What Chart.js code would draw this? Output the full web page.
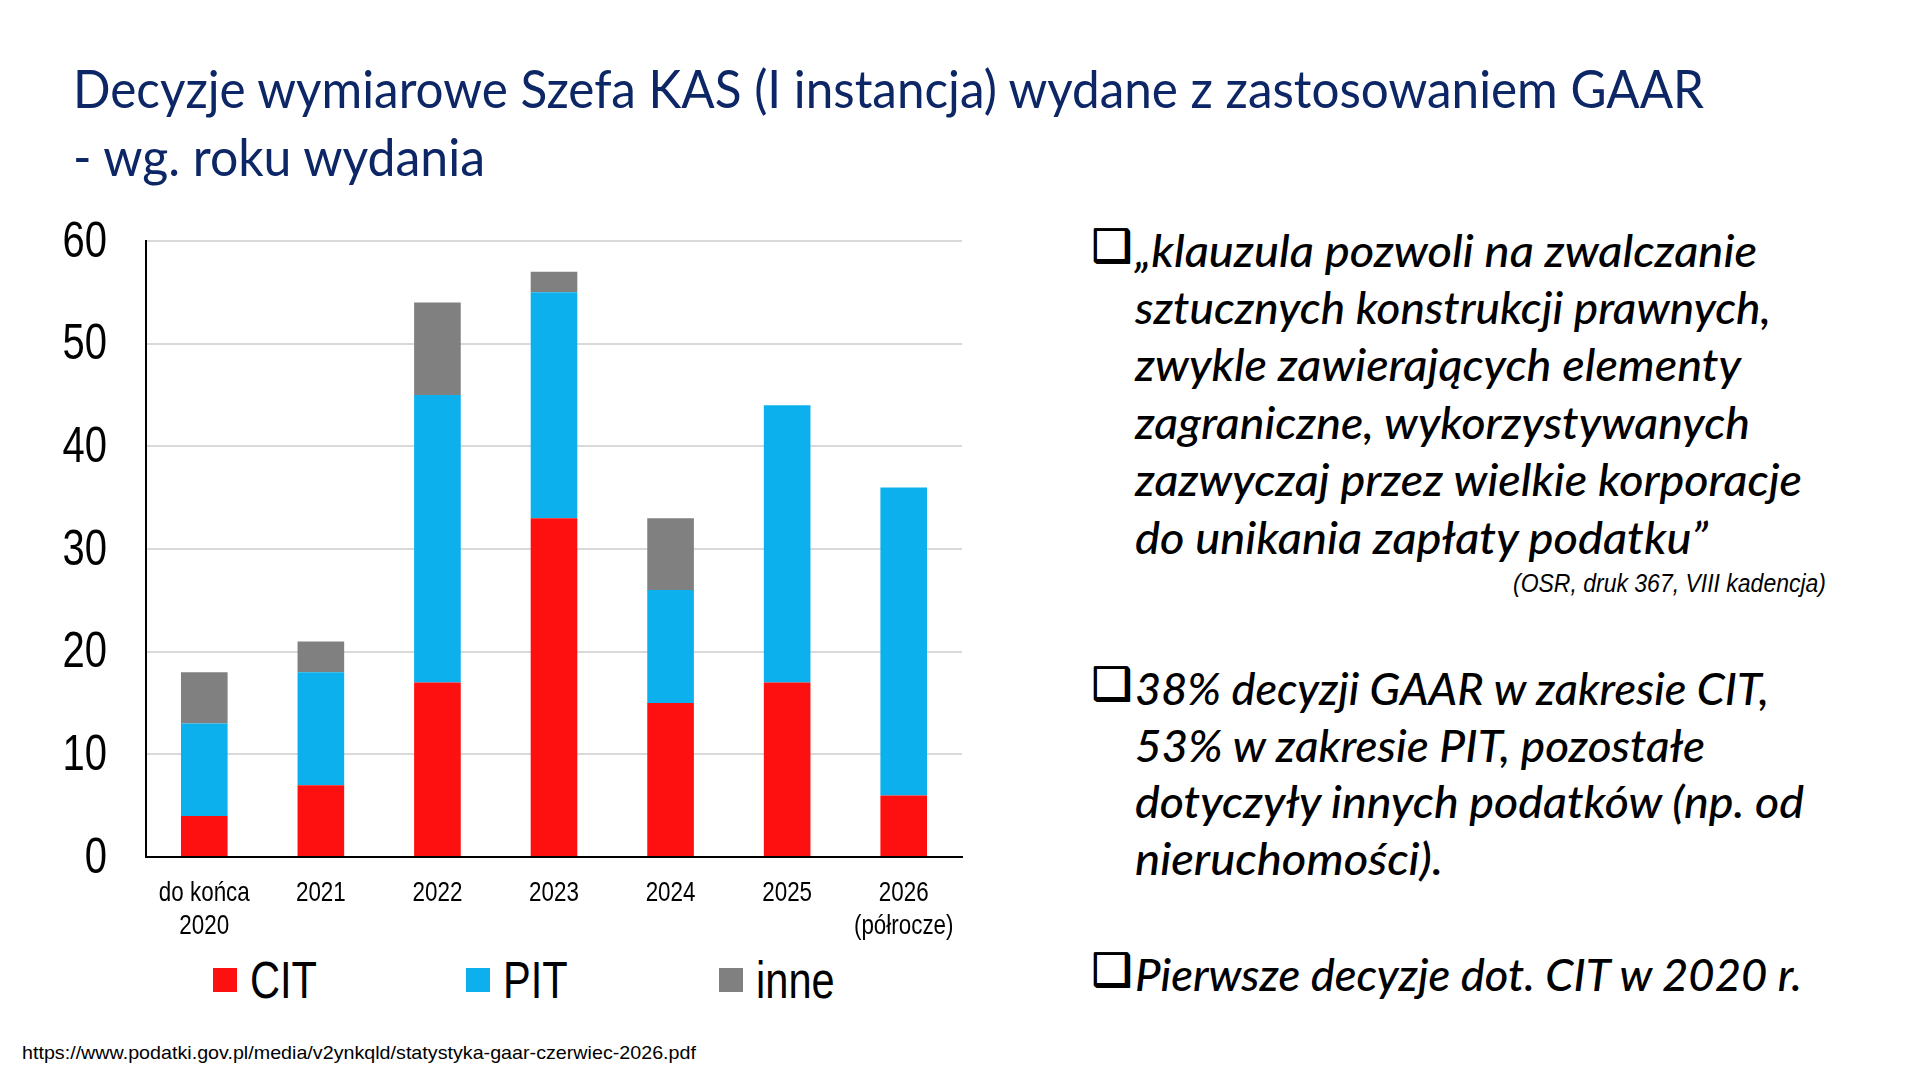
<!DOCTYPE html>
<html lang="pl">
<head>
<meta charset="utf-8">
<title>Decyzje GAAR</title>
<script src="https://cdn.jsdelivr.net/npm/chart.js@4.4.1/dist/chart.umd.min.js"></script>
<style>
  html, body { margin: 0; padding: 0; background: #fff; }
  body { width: 1909px; height: 1069px; position: relative; overflow: hidden; }
  .ln { position: absolute; white-space: nowrap; transform-origin: left center; }
  .title { font-family: Lato, "Open Sans", sans-serif; font-size: 52px; color: #0d2766; line-height: 68px; }
  .txt { font-family: Lato, "Open Sans", sans-serif; font-style: italic; font-weight: 500; font-size: 44px; color: #000; line-height: 58px; }
  .box { position: absolute; font-family: "DejaVu Sans", sans-serif; font-size: 45px; line-height: 58px; color: #000;
         text-shadow: 1px 0 0 #000, 0 1px 0 #000, 1px 1px 0 #000; }
  .cite { font-family: "Liberation Sans", sans-serif; font-style: italic; font-size: 25px; line-height: 30px; }
  .src { font-family: "Liberation Sans", Arial, sans-serif; font-size: 19px; line-height: 24px; color: #000; }
  #chartWrap { position: absolute; left: 0; top: 172px; width: 1000px; height: 778px; }
  #legend { position: absolute; left: 213px; top: 950px; height: 60px; display: flex; }
  #legend .item { width: 253px; display: flex; align-items: center; height: 60px; }
  #legend .sw { width: 24px; height: 24px; margin-right: 13px; }
  #legend .lab { display: inline-block; font-family: "Liberation Sans", sans-serif; font-size: 52px; color: #000;
                 transform: scaleX(0.8); transform-origin: left center; }
</style>
</head>
<body>

<div class="ln title" style="left:73px; top:54px;" data-w="1631">Decyzje wymiarowe Szefa KAS (I instancja) wydane z zastosowaniem GAAR</div>
<div class="ln title" style="left:73px; top:122px;" data-w="412">- wg. roku wydania</div>

<div id="chartWrap"><canvas id="gaarChart"></canvas></div>
<div id="legend"></div>

<!-- blok 1 -->
<div class="box" style="left:1091px; top:217px;">❑</div>
<div class="ln txt" style="left:1135px; top:221px;" data-w="622">„klauzula pozwoli na zwalczanie</div>
<div class="ln txt" style="left:1135px; top:278px;" data-w="636">sztucznych konstrukcji prawnych,</div>
<div class="ln txt" style="left:1135px; top:335px;" data-w="606">zwykle zawierających elementy</div>
<div class="ln txt" style="left:1135px; top:393px;" data-w="615">zagraniczne, wykorzystywanych</div>
<div class="ln txt" style="left:1135px; top:450px;" data-w="667">zazwyczaj przez wielkie korporacje</div>
<div class="ln txt" style="left:1135px; top:508px;" data-w="573">do unikania zapłaty podatku”</div>
<div class="ln cite" style="left:1513px; top:568px;" data-w="313">(OSR, druk 367, VIII kadencja)</div>

<!-- blok 2 -->
<div class="box" style="left:1091px; top:655px;">❑</div>
<div class="ln txt" style="left:1135px; top:659px;" data-w="634">38% decyzji GAAR w zakresie CIT,</div>
<div class="ln txt" style="left:1135px; top:716px;" data-w="570">53% w zakresie PIT, pozostałe</div>
<div class="ln txt" style="left:1135px; top:772px;" data-w="669">dotyczyły innych podatków (np. od</div>
<div class="ln txt" style="left:1135px; top:829px;" data-w="308">nieruchomości).</div>

<!-- blok 3 -->
<div class="box" style="left:1091px; top:941px;">❑</div>
<div class="ln txt" style="left:1135px; top:945px;" data-w="667">Pierwsze decyzje dot. CIT w 2020 r.</div>

<div class="ln src" style="left:22px; top:1041px;" data-w="674">https://www.podatki.gov.pl/media/v2ynkqld/statystyka-gaar-czerwiec-2026.pdf</div>

<script>
// dane
const categories = [['do końca', '2020'], '2021', '2022', '2023', '2024', '2025', ['2026', '(półrocze)']];
const citValues = [4, 7, 17, 33, 15, 17, 6];
const pitValues = [9, 11, 28, 22, 11, 27, 30];
const inneValues = [5, 3, 9, 2, 7, 0, 0];
const seriesLabels = ['CIT', 'PIT', 'inne'];
const yMin = 0;
const yMax = 60;
const yStep = 10;

const colors = ['#ff1010', '#0bb0ec', '#808080'];
const fontFam = '"Liberation Sans", Arial, sans-serif';

// dopasowanie szerokości linii tekstu do oryginału
document.querySelectorAll('[data-w]').forEach(el => {
    const w = el.getBoundingClientRect().width;
    const target = parseFloat(el.dataset.w);
    el.style.transform = 'scaleX(' + (target / w).toFixed(4) + ')';
});

// etykiety osi rysowane zwężoną czcionką (jak Arial Narrow)
const narrowLabels = {
    id: 'narrowLabels',
    afterDraw(chart) {
        const ctx = chart.ctx;
        const sx = 0.8;
        ctx.save();
        ctx.fillStyle = '#000';

        const y = chart.scales.y;
        ctx.font = '50px ' + fontFam;
        ctx.textAlign = 'right';
        ctx.textBaseline = 'middle';
        y.ticks.forEach(t => {
            ctx.save();
            ctx.translate(y.right - 39, y.getPixelForValue(t.value) + 2);
            ctx.scale(sx, 1);
            ctx.fillText(String(t.label), 0, 0);
            ctx.restore();
        });

        const x = chart.scales.x;
        ctx.font = '28px ' + fontFam;
        ctx.textAlign = 'center';
        x.ticks.forEach((t, i) => {
            const lines = [].concat(t.label);
            lines.forEach((s, j) => {
                ctx.save();
                ctx.translate(x.getPixelForTick(i), x.top + 36 + j * 33);
                ctx.scale(sx, 1);
                ctx.fillText(s, 0, 0);
                ctx.restore();
            });
        });
        ctx.restore();
    }
};

const ctx = document.getElementById('gaarChart').getContext('2d');
const gaarChart = new Chart(ctx, {
    type: 'bar',
    data: {
        labels: categories,
        datasets: [
            { label: seriesLabels[0], data: citValues, backgroundColor: colors[0] },
            { label: seriesLabels[1], data: pitValues, backgroundColor: colors[1] },
            { label: seriesLabels[2], data: inneValues, backgroundColor: colors[2] }
        ]
    },
    options: {
        responsive: true,
        maintainAspectRatio: false,
        animation: false,
        devicePixelRatio: 1,
        layout: { padding: { top: 32, right: 38, bottom: 0, left: 0 } },
        datasets: {
            bar: { barPercentage: 0.4, categoryPercentage: 1.0, borderWidth: 0 }
        },
        plugins: {
            legend: { display: false },
            tooltip: { enabled: false }
        },
        scales: {
            x: {
                stacked: true,
                grid: { display: false, drawTicks: false },
                border: { display: true, color: '#000', width: 2 },
                ticks: {
                    color: 'rgba(0,0,0,0)',
                    font: { family: fontFam, size: 28, lineHeight: 1.2 },
                    padding: 19,
                    maxRotation: 0,
                    autoSkip: false
                },
                afterFit: (scale) => { scale.height = 93; }
            },
            y: {
                stacked: true,
                min: yMin,
                max: yMax,
                grid: { color: '#d9d9d9', lineWidth: 2, drawTicks: false },
                border: { display: true, color: '#000', width: 2 },
                ticks: {
                    stepSize: yStep,
                    color: 'rgba(0,0,0,0)',
                    font: { family: fontFam, size: 50 },
                    padding: 39
                },
                afterFit: (scale) => { scale.width = 146; }
            }
        }
    },
    plugins: [narrowLabels]
});

// legenda HTML zbudowana z zestawów danych wykresu
const legendEl = document.getElementById('legend');
gaarChart.data.datasets.forEach(ds => {
    const item = document.createElement('div');
    item.className = 'item';
    const sw = document.createElement('span');
    sw.className = 'sw';
    sw.style.backgroundColor = ds.backgroundColor;
    const lab = document.createElement('span');
    lab.className = 'lab';
    lab.textContent = ds.label;
    item.appendChild(sw);
    item.appendChild(lab);
    legendEl.appendChild(item);
});
</script>
</body>
</html>
